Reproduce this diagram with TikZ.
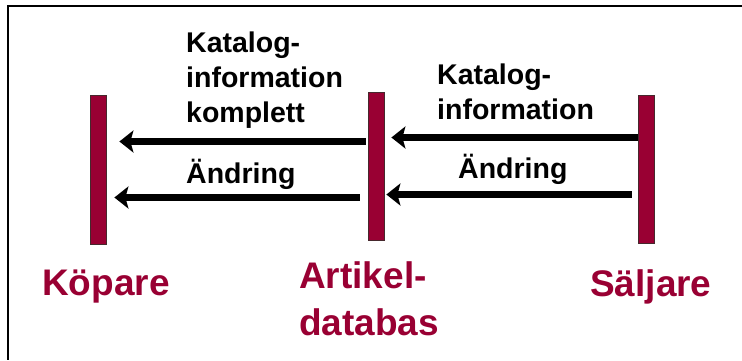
\documentclass[tikz,border=0pt]{standalone}
\usepackage{fontspec}
\setmainfont{Liberation Sans}
\usetikzlibrary{arrows.meta}
\definecolor{lifered}{RGB}{153,0,51}
\definecolor{barline}{RGB}{70,40,45}
\tikzset{
  lifeline/.style={draw=barline, line width=0.8pt, fill=lifered, minimum width=16pt, inner sep=0pt},
  msg/.style={line width=7pt, -{Stealth[length=14pt, width=22pt, inset=3pt]}},
  msglabel/.style={anchor=base west, inner sep=0pt, align=left,
    font=\bfseries\fontsize{28.5}{34.7}\selectfont},
  actor/.style={anchor=base west, inner sep=0pt, align=left, text=lifered,
    font=\bfseries\fontsize{37}{47}\selectfont}
}
\begin{document}
\begin{tikzpicture}[x=1pt, y=-1pt]
  \useasboundingbox (0,0) rectangle (742,360);
  % frame (open to the right and bottom)
  \draw[line width=2pt] (742,6) -- (8.3,6) -- (8.3,360);

  % lifelines
  \node[lifeline, minimum height=149pt] (kop) at (98.7,169.5) {};
  \node[lifeline, minimum height=148pt] (art) at (376,166) {};
  \node[lifeline, minimum height=148pt] (sal) at (646,169) {};

  % message rows
  \coordinate (r1) at (0,141.5);
  \coordinate (r2) at (0,197.5);
  \coordinate (r3) at (0,137.5);
  \coordinate (r4) at (0,194.5);

  \draw[msg, shorten <=2pt, shorten >=12.3pt] (art.west |- r1) -- (kop.east |- r1);
  \draw[msg, shorten <=8pt, shorten >=7.3pt] (art.west |- r2) -- (kop.east |- r2);
  \draw[msg, shorten >=7pt] (sal.west |- r3) -- (art.east |- r3);
  \draw[msg, shorten <=6pt, shorten >=2pt] (sal.west |- r4) -- (art.east |- r4);

  % message labels (base anchor sits on the last line)
  \node[msglabel] (l1) at (186,122) {Katalog-\\information\\komplett};
  \node[msglabel] (l2) at (186,183) {Ändring};
  \node[msglabel] (l3) at (437,119.5) {Katalog-\\information};
  \node[msglabel] (l4) at (458,178) {Ändring};

  % actor names
  \node[actor] (nkop) at (42,295) {Köpare};
  \node[actor] (nart) at (299,335) {Artikel-\\databas};
  \node[actor] (nsal) at (590,296.5) {Säljare};
\end{tikzpicture}
\end{document}
